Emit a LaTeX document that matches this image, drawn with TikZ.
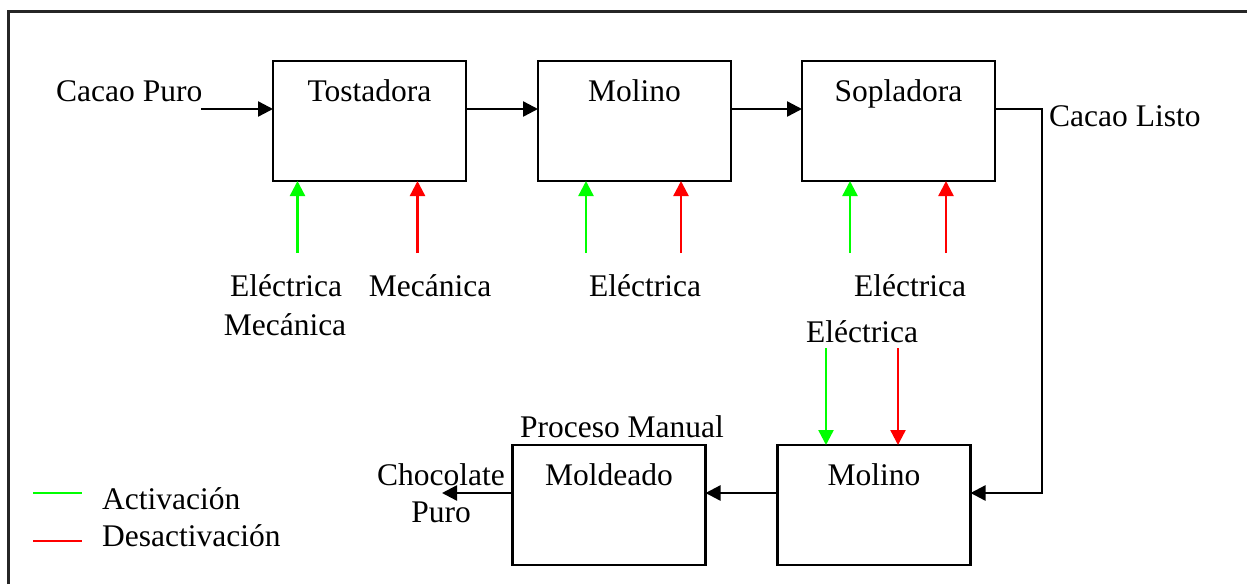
\documentclass[tikz,border=0pt]{standalone}
\usepackage{fontspec}
\setmainfont{Liberation Serif}
\usetikzlibrary{arrows.meta}
\usetikzlibrary{positioning}
\tikzset{
    box/.style={draw=black, line width=2.8pt, minimum width=193pt, minimum height=120pt,
        inner sep=0pt, outer sep=0pt},
    flow/.style={draw=black, line width=2.4pt, -{Triangle[length=15pt,width=15pt]}},
    activ/.style={draw=green, line width=2.4pt, -{Triangle[length=15pt,width=15pt]}},
    desac/.style={draw=red, line width=2.4pt, -{Triangle[length=15pt,width=15pt]}},
    lbl/.style={anchor=base, inner sep=0pt, font=\fontsize{31.5}{37}\selectfont},
}
\begin{document}
\begin{tikzpicture}[x=1pt, y=-1pt]
	\useasboundingbox (0,0) rectangle (1247,584);
	\draw[line width=3pt, black!85] (8,584) -- (8,11) -- (1247,11);
	% upper line
	\node[box] (tost) at (369.5,121) {};
	\node[box, right=72pt of tost] (mol1) {};
	\node[box, right=71pt of mol1] (sopl) {};
	\node[lbl] (ttost) at ([yshift=-40.5pt]tost.north) {Tostadora};
	\node[lbl] (tmol1) at ([yshift=-40.5pt]mol1.north) {Molino};
	\node[lbl] (tsopl) at ([yshift=-40.5pt]sopl.north) {Sopladora};
	%
	\node[lbl, anchor=base west] (cpuro) at (56,101.5) {Cacao Puro};
	\coordinate (cin) at (201,109);
	\draw[flow] (cin) -- (cin -| tost.west);
	\draw[flow] (tost.east |- cin) -- (mol1.west |- cin);
	\draw[flow] (mol1.east |- cin) -- (sopl.west |- cin);
	\node[lbl, anchor=base west] (clisto) at (1049,126) {Cacao Listo};
	%
	\coordinate (tostA) at (297.5,253);
	\coordinate (tostD) at (417.5,253);
	\coordinate (mol1A) at (586,253);
	\coordinate (mol1D) at (681,253);
	\coordinate (soplA) at (850,253);
	\coordinate (soplD) at (946,253);
	\draw[activ] (tostA) -- (tostA |- tost.south);
	\draw[desac] (tostD) -- (tostD |- tost.south);
	\draw[activ] (mol1A) -- (mol1A |- mol1.south);
	\draw[desac] (mol1D) -- (mol1D |- mol1.south);
	\draw[activ] (soplA) -- (soplA |- sopl.south);
	\draw[desac] (soplD) -- (soplD |- sopl.south);
	\node[lbl] (etost) at (286,296) {Eléctrica};
	\node[lbl] (mtost) at (285,335) {Mecánica};
	\node[lbl] (mtostd) at (430,296) {Mecánica};
	\node[lbl] (emol1) at (645,296) {Eléctrica};
	\node[lbl] (esopl) at (910,296) {Eléctrica};
	% lower line
	\node[box] (mol2) at (874,505) {};
	\node[box, left=72pt of mol2] (mold) {};
	\node[lbl] (tmol2) at ([yshift=-40.7pt]mol2.north) {Molino};
	\node[lbl] (tmold) at ([yshift=-40.7pt]mold.north) {Moldeado};
	\node[lbl] (pman) at (622,437.7) {Proceso Manual};
	%
	\coordinate (turn) at (1042,109);
	\coordinate (cout) at (442,493);
	\draw[flow] (sopl.east |- cin) -- (turn) |- (mol2.east |- cout);
	\draw[flow] (mol2.west |- cout) -- (mold.east |- cout);
	\draw[flow] (mold.west |- cout) -- (cout);
	\node[lbl] (choc) at (441,485) {Chocolate};
	\node[lbl] (puro) at (441,522.7) {Puro};
	%
	\coordinate (mol2A) at (826,348);
	\coordinate (mol2D) at (898,348);
	\draw[activ] (mol2A) -- (mol2A |- mol2.north);
	\draw[desac] (mol2D) -- (mol2D |- mol2.north);
	\node[lbl] (emol2) at (862,342.7) {Eléctrica};
	% legend
	\draw[green, line width=2.4pt] (33,493) -- (82,493);
	\draw[red, line width=2.4pt] (33,541) -- (82,541);
	\node[lbl, anchor=base west] (lact) at (102,509) {Activación};
	\node[lbl, anchor=base west] (ldes) at (102,546.7) {Desactivación};
\end{tikzpicture}
\end{document}
